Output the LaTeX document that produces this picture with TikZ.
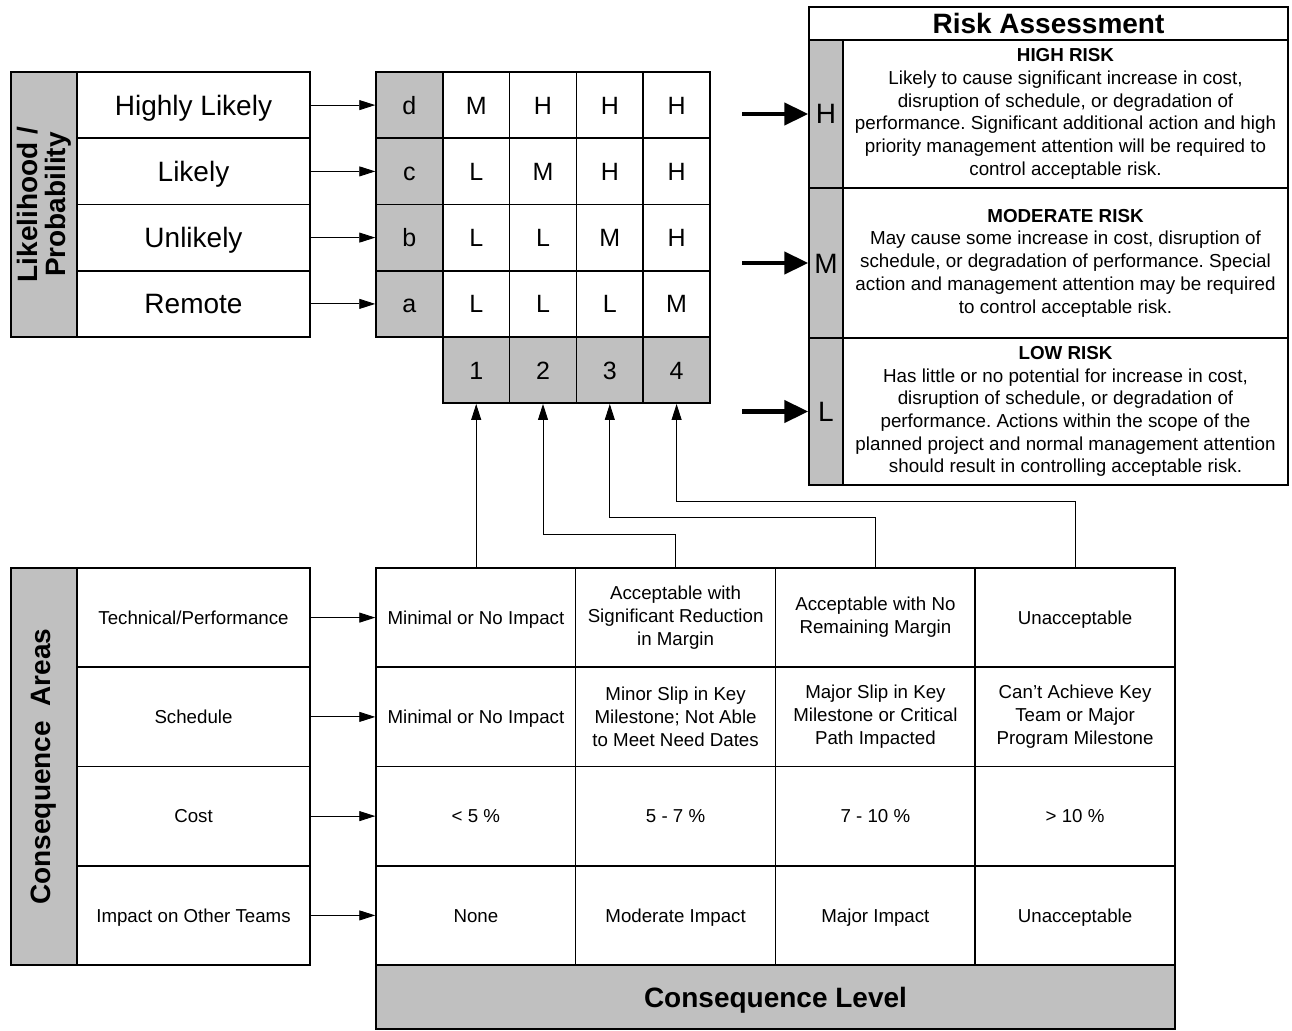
\documentclass[tikz,border=0pt]{standalone}
\usepackage{fontspec}
\setmainfont{Liberation Sans}
\usetikzlibrary{arrows.meta,calc}
\definecolor{cellgray}{HTML}{C0C0C0}
\frenchspacing
\tikzset{
  box/.style={draw=black, line width=1.5pt, inner sep=0pt, anchor=center, fill=white},
  gbox/.style={box, fill=cellgray},
  biglab/.style={font=\fontsize{28}{30}\selectfont, text height=20pt, text depth=0pt},
  midlab/.style={font=\fontsize{25}{27}\selectfont, text height=17.9pt, text depth=0pt},
  vlab/.style={font=\bfseries\fontsize{28}{28}\selectfont, align=center, rotate=90, inner sep=0pt},
  titlelab/.style={font=\bfseries\fontsize{28}{29}\selectfont, text height=20pt, text depth=0pt},
  desc/.style={font=\fontsize{18.8}{22.7}\selectfont, align=center},
  cons/.style={font=\fontsize{18.7}{23}\selectfont, align=center},
  cons1/.style={font=\fontsize{18.7}{23}\selectfont, text height=13.4pt, text depth=0pt},
  arr/.style={line width=0.9pt, -{Triangle[length=16pt,width=10pt]}},
  bigarr/.style={line width=4.5pt, -{Triangle[length=24pt,width=22pt]}},
  bc/.style={box, minimum width=199.75pt, minimum height=99.25pt},
}
\begin{document}
\begin{tikzpicture}[x=1pt,y=-1pt]
\fill[white] (0,0) rectangle (1292,1030);
\useasboundingbox (0,0) rectangle (1292,1030);

% ---------- Likelihood block ----------
\node[gbox, minimum width=66pt, minimum height=265pt] (lpg) at (44,204.5) {};
\node[vlab] (lpt) at (44,204.5) {Likelihood /\\Probability};
\foreach \n/\t/\y in {hl/Highly Likely/105.1, li/Likely/171.4, ul/Unlikely/237.6, re/Remote/303.9}
  \node[box, biglab, minimum width=233pt, minimum height=66.25pt] (\n) at (193.5,\y) {\t};

% ---------- Risk matrix ----------
\foreach \r/\y in {d/105.1, c/171.4, b/237.6, a/303.9}
  \node[gbox, midlab, minimum width=66.8pt, minimum height=66.25pt] (m\r) at (409.4,\y) {\r};
\foreach \r/\y/\va/\vb/\vc/\vd in {d/105.1/M/H/H/H, c/171.4/L/M/H/H, b/237.6/L/L/M/H, a/303.9/L/L/L/M}{
  \node[box, midlab, minimum width=66.8pt, minimum height=66.25pt] (\r1) at (476.2,\y) {\va};
  \node[box, midlab, minimum width=66.8pt, minimum height=66.25pt] (\r2) at (543.0,\y) {\vb};
  \node[box, midlab, minimum width=66.8pt, minimum height=66.25pt] (\r3) at (609.8,\y) {\vc};
  \node[box, midlab, minimum width=66.8pt, minimum height=66.25pt] (\r4) at (676.6,\y) {\vd};
}
\foreach \i/\x in {1/476.2, 2/543.0, 3/609.8, 4/676.6}
  \node[gbox, midlab, minimum width=66.8pt, minimum height=66.25pt] (n\i) at (\x,370.1) {\i};

\draw[arr] (hl) -- (md);
\draw[arr] (li) -- (mc);
\draw[arr] (ul) -- (mb);
\draw[arr] (re) -- (ma);

% ---------- Risk assessment ----------
\node[box, titlelab, minimum width=479pt, minimum height=33pt] (rt) at (1048.5,23.5) {Risk Assessment};
\node[gbox, biglab, minimum width=34pt, minimum height=148pt] (rgh) at (826,114) {H};
\node[gbox, biglab, minimum width=34pt, minimum height=150pt] (rgm) at (826,263) {M};
\node[gbox, biglab, minimum width=34pt, minimum height=147pt] (rgl) at (826,411.5) {L};
\node[box, desc, minimum width=445pt, minimum height=148pt] (rth) at (1065.5,114)
  {\textbf{HIGH RISK}\\Likely to cause significant increase in cost,\\disruption of schedule, or degradation of\\performance. Significant additional action and high\\priority management attention will be required to\\control acceptable risk.};
\node[box, desc, minimum width=445pt, minimum height=150pt] (rtm) at (1065.5,263)
  {\textbf{MODERATE RISK}\\May cause some increase in cost, disruption of\\schedule, or degradation of performance. Special\\action and management attention may be required\\to control acceptable risk.};
\node[box, desc, minimum width=445pt, minimum height=147pt] (rtl) at (1065.5,411.5)
  {\textbf{LOW RISK}\\Has little or no potential for increase in cost,\\disruption of schedule, or degradation of\\performance. Actions within the scope of the\\planned project and normal management attention\\should result in controlling acceptable risk.};

\coordinate (sh) at (742,114);
\coordinate (sm) at (742,263);
\coordinate (sl) at (742,411.5);
\draw[bigarr] (sh) -- (rgh.west);
\draw[bigarr] (sm) -- (rgm.west);
\draw[bigarr] (sl) -- (rgl.west);

% ---------- Consequence areas ----------
\node[gbox, minimum width=66pt, minimum height=397pt] (cag) at (44,766.5) {};
\node[vlab] (cat) at (44,766.5) {Consequence\hspace{0.25em} Areas};
\foreach \n/\t/\y in {tech/Technical\slash Performance/617.6, sched/Schedule/716.9, cost/Cost/816.1, imp/Impact on Other Teams/915.4}
  \node[box, cons1, minimum width=233pt, minimum height=99.25pt] (\n) at (193.5,\y) {\t};

% row: technical / performance
\node[bc, cons1] (tp1) at (475.9,617.6) {Minimal or No Impact};
\node[bc, cons]  (tp2) at (675.6,617.6) {Acceptable with\\Significant Reduction\\in Margin};
\node[bc, cons]  (tp3) at (875.4,617.6) {Acceptable with No\\Remaining Margin};
\node[bc, cons1] (tp4) at (1075.1,617.6) {Unacceptable};
% row: schedule
\node[bc, cons1] (sc1) at (475.9,716.9) {Minimal or No Impact};
\node[bc, cons]  (sc2) at (675.6,716.9) {Minor Slip in Key\\Milestone; Not Able\\to Meet Need Dates};
\node[bc, cons]  (sc3) at (875.4,716.9) {Major Slip in Key\\Milestone or Critical\\Path Impacted};
\node[bc, cons]  (sc4) at (1075.1,716.9) {Can't Achieve Key\\Team or Major\\Program Milestone};
% row: cost
\node[bc, cons1] (co1) at (475.9,816.1) {< 5 \%};
\node[bc, cons1] (co2) at (675.6,816.1) {5 - 7 \%};
\node[bc, cons1] (co3) at (875.4,816.1) {7 - 10 \%};
\node[bc, cons1] (co4) at (1075.1,816.1) {> 10 \%};
% row: impact on other teams
\node[bc, cons1] (im1) at (475.9,915.4) {None};
\node[bc, cons1] (im2) at (675.6,915.4) {Moderate Impact};
\node[bc, cons1] (im3) at (875.4,915.4) {Major Impact};
\node[bc, cons1] (im4) at (1075.1,915.4) {Unacceptable};

\node[gbox, titlelab, minimum width=799pt, minimum height=64pt] (lev) at (775.5,997) {Consequence Level};

\draw[arr] (tech) -- (tp1);
\draw[arr] (sched) -- (sc1);
\draw[arr] (cost) -- (co1);
\draw[arr] (imp) -- (im1);

\draw[arr] (n1.south |- tp1.north) -- (n1.south);
\draw[arr] (tp2.north) -- ++(0,-33) -| (n2.south);
\draw[arr] (tp3.north) -- ++(0,-50) -| (n3.south);
\draw[arr] (tp4.north) -- ++(0,-66) -| (n4.south);
\end{tikzpicture}
\end{document}
